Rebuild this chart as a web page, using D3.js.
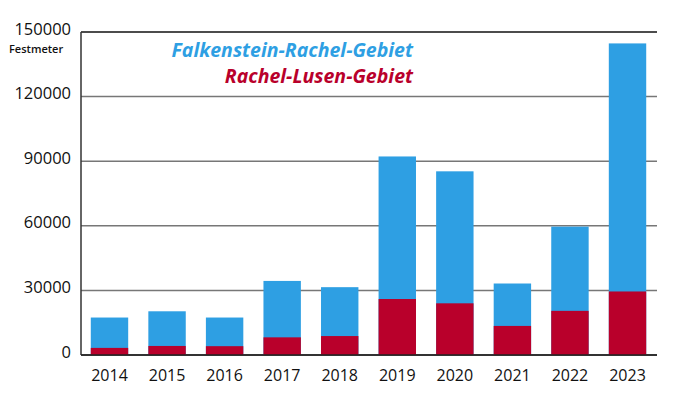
<!DOCTYPE html>
<html>
<head>
<meta charset="utf-8">
<script src="https://cdn.jsdelivr.net/npm/d3@7"></script>
<style>
  body { margin: 0; background: #fff; }
  svg { display: block; font-family: "Open Sans", Lato, sans-serif; }
</style>
</head>
<body>
<svg id="chart"></svg>
<script>
// Festmeter per year, two areas
const years = ["2014", "2015", "2016", "2017", "2018", "2019", "2020", "2021", "2022", "2023"];
const rachelLusen = [3300, 4200, 4100, 8200, 8800, 26000, 24000, 13500, 20500, 29500];
const falkensteinTotal = [17400, 20300, 17400, 34400, 31500, 92200, 85300, 33200, 59600, 144700];
const yTicks = [0, 30000, 60000, 90000, 120000, 150000];

const width = 675, height = 397;
const blue = "#2e9fe3", red = "#b9002b";

const svg = d3.select("#chart").attr("width", width).attr("height", height);

const x = d3.scaleBand()
    .domain(years)
    .range([81, 656])
    .paddingInner(0.35)
    .paddingOuter(0.17);

const y = d3.scaleLinear()
    .domain([0, 150000])
    .range([355, 32]);

// gridlines
svg.selectAll("line.grid")
    .data(yTicks)
    .enter()
    .append("line")
    .attr("x1", 81)
    .attr("x2", 657)
    .attr("y1", d => y(d))
    .attr("y2", d => y(d))
    .style("stroke", d => d === 150000 ? "#111" : (d === 0 ? "#333" : "#777"))
    .style("stroke-width", 1.5);

// y tick labels (sit a bit above their line)
svg.selectAll("text.ytick")
    .data(yTicks)
    .enter()
    .append("text")
    .attr("x", 71)
    .attr("y", d => y(d) + 2.5)
    .attr("text-anchor", "end")
    .style("font-size", "16.5px")
    .style("fill", "#111")
    .text(d => d);

svg.append("text")
    .attr("x", 9)
    .attr("y", 53)
    .style("font-size", "11px")
    .style("font-weight", "600")
    .style("fill", "#111")
    .text("Festmeter");

// bars: total (blue) and Rachel-Lusen (red) on top
const rows = years.map((yr, i) => ({ year: yr, total: falkensteinTotal[i], red: rachelLusen[i] }));

svg.selectAll("rect.total")
    .data(rows)
    .enter()
    .append("rect")
    .attr("x", d => x(d.year))
    .attr("y", d => y(d.total))
    .attr("width", x.bandwidth())
    .attr("height", d => y(0) - y(d.total))
    .style("fill", blue);

svg.selectAll("rect.red")
    .data(rows)
    .enter()
    .append("rect")
    .attr("x", d => x(d.year))
    .attr("y", d => y(d.red))
    .attr("width", x.bandwidth())
    .attr("height", d => y(0) - y(d.red))
    .style("fill", red);

// axis lines
svg.append("line")
    .attr("x1", 81).attr("x2", 81)
    .attr("y1", 32).attr("y2", 355)
    .style("stroke", "#333").style("stroke-width", 1.5);
svg.append("line")
    .attr("x1", 81).attr("x2", 657)
    .attr("y1", 355).attr("y2", 355)
    .style("stroke", "#222").style("stroke-width", 1.5);

// x labels
svg.selectAll("text.xtick")
    .data(years)
    .enter()
    .append("text")
    .attr("x", d => x(d) + x.bandwidth() / 2)
    .attr("y", 381)
    .attr("text-anchor", "middle")
    .style("font-size", "16px")
    .style("fill", "#111")
    .text(d => d);

// legend
svg.append("text")
    .attr("x", 413).attr("y", 57)
    .attr("text-anchor", "end")
    .style("font-size", "19.5px")
    .style("font-weight", "bold")
    .style("font-style", "italic")
    .style("fill", blue)
    .text("Falkenstein-Rachel-Gebiet");
svg.append("text")
    .attr("x", 413).attr("y", 83)
    .attr("text-anchor", "end")
    .style("font-size", "19.5px")
    .style("font-weight", "bold")
    .style("font-style", "italic")
    .style("fill", red)
    .text("Rachel-Lusen-Gebiet");
</script>
</body>
</html>
